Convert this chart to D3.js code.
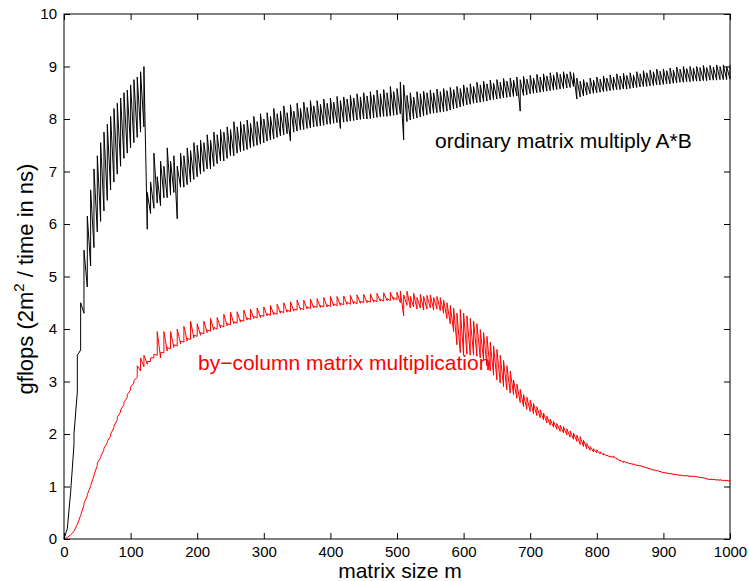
<!DOCTYPE html>
<html>
<head>
<meta charset="utf-8">
<script src="https://cdn.jsdelivr.net/npm/d3@7"></script>
<style>
  body { margin: 0; background: #fff; }
  svg { display: block; font-family: "Liberation Sans", Arial, Helvetica, sans-serif; }
</style>
</head>
<body>
<svg id="chart" width="749" height="581"></svg>
<script>
// matrix sizes m, sampled every 5
const matrixSizes = d3.range(0, 1001, 5)

// ordinary matrix multiply A*B: lower and upper edge of the jagged trace (gflops)
const blackLow = [
  0, 0.2, 0.9, 1.8, 2.8, 3.6, 4.3, 4.8, 5.2, 5.55,
  5.85, 6.05, 6.25, 6.45, 6.65, 6.8, 6.95, 7.1, 7.25, 7.35,
  7.45, 7.55, 7.65, 7.75, 7.85, 5.9, 6.2, 6.3, 6.4, 6.35,
  6.5, 6.5, 6.55, 6.6, 6.1, 6.7, 6.7, 6.75, 6.8, 6.85,
  6.9, 6.95, 7.0, 7.05, 7.05, 7.1, 7.15, 7.2, 7.2, 7.25,
  7.3, 7.3, 7.35, 7.38, 7.4, 7.42, 7.45, 7.48, 7.5, 7.52,
  7.55, 7.58, 7.6, 7.62, 7.65, 7.68, 7.7, 7.72, 7.58, 7.75,
  7.77, 7.79, 7.8, 7.82, 7.83, 7.85, 7.86, 7.87, 7.88, 7.9,
  7.9, 7.92, 7.93, 7.82, 7.94, 7.95, 7.96, 7.97, 7.98, 7.99,
  8.0, 8.0, 8.01, 8.02, 8.03, 8.04, 8.05, 8.05, 8.06, 8.07,
  8.08, 8.1, 7.6, 7.95, 7.98, 8.0, 8.02, 8.04, 8.06, 8.08,
  8.1, 8.11, 8.12, 8.13, 8.14, 8.15, 8.17, 8.19, 8.21, 8.23,
  8.25, 8.27, 8.28, 8.3, 8.31, 8.32, 8.33, 8.34, 8.36, 8.37,
  8.38, 8.39, 8.4, 8.41, 8.42, 8.43, 8.44, 8.15, 8.45, 8.46,
  8.48, 8.49, 8.5, 8.51, 8.52, 8.53, 8.54, 8.55, 8.56, 8.57,
  8.58, 8.59, 8.6, 8.62, 8.38, 8.42, 8.44, 8.46, 8.48, 8.49,
  8.5, 8.51, 8.52, 8.53, 8.54, 8.55, 8.56, 8.56, 8.57, 8.57,
  8.58, 8.59, 8.6, 8.61, 8.62, 8.62, 8.63, 8.64, 8.65, 8.65,
  8.66, 8.67, 8.67, 8.68, 8.69, 8.7, 8.7, 8.71, 8.71, 8.72,
  8.72, 8.72, 8.73, 8.73, 8.74, 8.74, 8.74, 8.75, 8.75, 8.75,
  8.76
]
const blackHigh = [
  0, 0.2, 0.9, 2.0, 3.5, 4.5, 5.5, 6.15, 6.65, 7.05,
  7.3, 7.55, 7.75, 7.9, 8.05, 8.2, 8.3, 8.4, 8.5, 8.55,
  8.65, 8.75, 8.8, 8.9, 9.0, 6.6, 6.8, 7.35, 6.9, 7.2,
  7.1, 7.45, 7.2, 7.3, 7.1, 7.35, 7.3, 7.45, 7.4, 7.55,
  7.5, 7.6, 7.55, 7.7, 7.6, 7.75, 7.7, 7.8, 7.75, 7.85,
  7.8, 7.95, 7.85, 7.95, 7.9, 7.98, 7.92, 8.05, 7.95, 8.1,
  8.0, 8.12, 8.05, 8.2, 8.1, 8.15, 8.25, 8.12, 8.27, 8.15,
  8.3, 8.2, 8.32, 8.22, 8.35, 8.25, 8.35, 8.28, 8.38, 8.3,
  8.4, 8.32, 8.43, 8.35, 8.42, 8.38, 8.45, 8.4, 8.48, 8.42,
  8.5, 8.44, 8.52, 8.46, 8.55, 8.48, 8.56, 8.5, 8.62, 8.52,
  8.58, 8.7, 8.65, 8.45, 8.5, 8.42, 8.52, 8.48, 8.53, 8.5,
  8.55, 8.5, 8.57, 8.52, 8.58, 8.54, 8.6, 8.56, 8.62, 8.58,
  8.65, 8.6, 8.67, 8.62, 8.7, 8.65, 8.72, 8.67, 8.74, 8.68,
  8.75, 8.7, 8.77, 8.72, 8.78, 8.74, 8.8, 8.75, 8.81, 8.76,
  8.83, 8.78, 8.85, 8.8, 8.86, 8.82, 8.88, 8.84, 8.89, 8.85,
  8.9, 8.86, 8.9, 8.88, 8.78, 8.72, 8.75, 8.7, 8.78, 8.74,
  8.8, 8.76, 8.82, 8.78, 8.84, 8.8, 8.86, 8.82, 8.87, 8.83,
  8.88, 8.84, 8.9, 8.86, 8.92, 8.88, 8.93, 8.9, 8.95, 8.91,
  8.95, 8.92, 8.97, 8.93, 8.99, 8.95, 9.0, 8.96, 9.0, 8.97,
  9.0, 8.98, 9.02, 8.98, 9.02, 8.99, 9.03, 9.0, 9.03, 9.0,
  9.03
]

// by-column matrix multiplication: lower and upper edge (gflops)
const redLow = [
  0, 0.03, 0.08, 0.15, 0.28, 0.45, 0.65, 0.82, 1.0, 1.2,
  1.4, 1.55, 1.7, 1.83, 1.96, 2.12, 2.27, 2.42, 2.56, 2.7,
  2.84, 2.97, 3.08, 3.2, 3.28, 3.33, 3.38, 3.45, 3.5, 3.45,
  3.55, 3.58, 3.62, 3.65, 3.68, 3.72, 3.75, 3.77, 3.8, 3.83,
  3.86, 3.88, 3.91, 3.93, 3.96, 3.98, 4.0, 4.02, 4.04, 4.06,
  4.08, 4.1, 4.11, 4.13, 4.15, 4.17, 4.18, 4.2, 4.21, 4.22,
  4.24, 4.25, 4.26, 4.27, 4.28, 4.3, 4.31, 4.32, 4.33, 4.34,
  4.36, 4.37, 4.37, 4.38, 4.39, 4.4, 4.41, 4.41, 4.42, 4.42,
  4.43, 4.44, 4.44, 4.45, 4.46, 4.47, 4.47, 4.48, 4.48, 4.49,
  4.5, 4.5, 4.51, 4.51, 4.52, 4.53, 4.53, 4.54, 4.54, 4.55,
  4.55, 4.5, 4.25, 4.45, 4.4, 4.42, 4.38, 4.4, 4.36, 4.38,
  4.4, 4.36, 4.38, 4.35, 4.3, 4.2, 4.1, 3.95, 3.7, 3.55,
  3.5, 3.52, 3.5, 3.5, 3.48, 3.45, 3.4, 3.3, 3.2, 3.12,
  3.03, 2.97, 2.9, 2.84, 2.78, 2.75, 2.68, 2.6, 2.52, 2.47,
  2.43, 2.39, 2.35, 2.31, 2.27, 2.21, 2.17, 2.13, 2.09, 2.05,
  2.02, 1.98, 1.94, 1.9, 1.86, 1.8, 1.76, 1.72, 1.69, 1.66,
  1.64, 1.62, 1.6, 1.58, 1.56, 1.55, 1.52, 1.48, 1.46, 1.45,
  1.43, 1.42, 1.4, 1.39, 1.37, 1.35, 1.33, 1.31, 1.3, 1.28,
  1.26, 1.25, 1.24, 1.23, 1.22, 1.21, 1.2, 1.2, 1.19, 1.19,
  1.18, 1.17, 1.16, 1.14, 1.13, 1.13, 1.12, 1.12, 1.11, 1.11,
  1.1
]
const redHigh = [
  0, 0.03, 0.08, 0.15, 0.28, 0.45, 0.68, 0.85, 1.02, 1.22,
  1.45, 1.57, 1.73, 1.86, 2.0, 2.15, 2.32, 2.46, 2.6, 2.75,
  2.9, 3.02, 3.3, 3.45, 3.5, 3.38, 3.45, 3.52, 3.95, 3.55,
  3.95, 3.65, 3.95, 3.7, 4.0, 3.77, 4.05, 3.82, 4.15, 3.88,
  4.1, 3.93, 4.15, 3.98, 4.2, 4.03, 4.22, 4.07, 4.28, 4.1,
  4.32, 4.14, 4.33, 4.17, 4.36, 4.21, 4.38, 4.24, 4.4, 4.26,
  4.42, 4.29, 4.45, 4.31, 4.47, 4.34, 4.5, 4.36, 4.52, 4.38,
  4.55, 4.4, 4.55, 4.42, 4.57, 4.44, 4.58, 4.45, 4.6, 4.46,
  4.62, 4.48, 4.62, 4.49, 4.63, 4.51, 4.64, 4.52, 4.65, 4.53,
  4.66, 4.54, 4.67, 4.55, 4.68, 4.57, 4.69, 4.58, 4.7, 4.6,
  4.7, 4.72, 4.65, 4.72, 4.62, 4.68, 4.6, 4.66, 4.62, 4.64,
  4.65, 4.6, 4.62, 4.6, 4.55, 4.5, 4.45, 4.4, 4.3, 4.37,
  4.3, 4.25, 4.2, 4.15, 4.1, 3.99, 3.93, 3.86, 3.75, 3.68,
  3.61, 3.5, 3.4, 3.3, 3.2, 3.03, 2.95, 2.85, 2.75, 2.7,
  2.65, 2.58, 2.52, 2.46, 2.4, 2.34, 2.28, 2.24, 2.2, 2.17,
  2.14, 2.1, 2.06, 2.02, 1.98, 1.95, 1.88, 1.82, 1.76, 1.72,
  1.7, 1.66, 1.63, 1.6, 1.58, 1.58, 1.54, 1.5, 1.48, 1.46,
  1.44, 1.43, 1.41, 1.4, 1.38, 1.36, 1.34, 1.32, 1.31, 1.29,
  1.27, 1.26, 1.25, 1.24, 1.23, 1.22, 1.21, 1.21, 1.2, 1.2,
  1.19, 1.18, 1.17, 1.15, 1.14, 1.14, 1.13, 1.13, 1.12, 1.12,
  1.11
]

const xTicks = [0, 100, 200, 300, 400, 500, 600, 700, 800, 900, 1000]
const yTicks = [0, 1, 2, 3, 4, 5, 6, 7, 8, 9, 10]

const svg = d3.select('#chart')
const plot = { left: 64, right: 730, top: 14, bottom: 539 }

const x = d3.scaleLinear().domain([0, 1000]).range([plot.left, plot.right])
const y = d3.scaleLinear().domain([0, 10]).range([plot.bottom, plot.top])

// zigzag through low and high value at every m
function sawPoints(low, high) {
    const pts = []
    matrixSizes.forEach((m, i) => {
        pts.push([m, low[i]])
        if (high[i] !== low[i]) pts.push([m, high[i]])
    })
    return pts
}

const line = d3.line()
    .x(d => x(d[0]))
    .y(d => y(d[1]))

svg.append('path')
    .attr('d', line(sawPoints(blackLow, blackHigh)))
    .attr('fill', 'none')
    .attr('stroke', '#000')
    .attr('stroke-width', 1)

svg.append('path')
    .attr('d', line(sawPoints(redLow, redHigh)))
    .attr('fill', 'none')
    .attr('stroke', '#f00')
    .attr('stroke-width', 1)

// axes, ticks pointing inwards on all four sides
const tickLen = 6
const plain = d => String(d)
svg.append('g')
    .attr('transform', 'translate(0,' + plot.bottom + ')')
    .call(d3.axisBottom(x).tickValues(xTicks).tickFormat(plain).tickSizeInner(-tickLen).tickSizeOuter(0).tickPadding(7))
svg.append('g')
    .attr('transform', 'translate(0,' + plot.top + ')')
    .call(d3.axisTop(x).tickValues(xTicks).tickSizeInner(-tickLen).tickSizeOuter(0).tickFormat(''))
svg.append('g')
    .attr('transform', 'translate(' + plot.left + ',0)')
    .call(d3.axisLeft(y).tickValues(yTicks).tickFormat(plain).tickSizeInner(-tickLen).tickSizeOuter(0).tickPadding(7))
svg.append('g')
    .attr('transform', 'translate(' + plot.right + ',0)')
    .call(d3.axisRight(y).tickValues(yTicks).tickSizeInner(-tickLen).tickSizeOuter(0).tickFormat(''))

svg.selectAll('.domain').remove()
svg.selectAll('.tick line').attr('stroke', '#000')
svg.selectAll('.tick text')
    .attr('fill', '#000')
    .style('font-size', '15px')
    .style('font-family', '"Liberation Sans", Arial, sans-serif')

svg.append('rect')
    .attr('x', plot.left)
    .attr('y', plot.top)
    .attr('width', plot.right - plot.left)
    .attr('height', plot.bottom - plot.top)
    .attr('fill', 'none')
    .attr('stroke', '#000')
    .attr('stroke-width', 1)

// labels
svg.append('text')
    .attr('x', 400)
    .attr('y', 578)
    .attr('text-anchor', 'middle')
    .style('font-size', '21px')
    .text('matrix size m')

const ylab = svg.append('text')
    .attr('transform', 'translate(33,279) rotate(-90)')
    .attr('text-anchor', 'middle')
    .style('font-size', '22px')
ylab.append('tspan').text('gflops (2m')
ylab.append('tspan').attr('dy', -9).style('font-size', '15px').text('2')
ylab.append('tspan').attr('dy', 9).text(' / time in ns)')

svg.append('text')
    .attr('x', 435)
    .attr('y', 147.5)
    .style('font-size', '21px')
    .attr('fill', '#000')
    .text('ordinary matrix multiply A*B')

svg.append('text')
    .attr('x', 198)
    .attr('y', 370)
    .style('font-size', '21px')
    .attr('fill', '#f00')
    .text('by\u2212column matrix multiplication')
</script>
</body>
</html>
